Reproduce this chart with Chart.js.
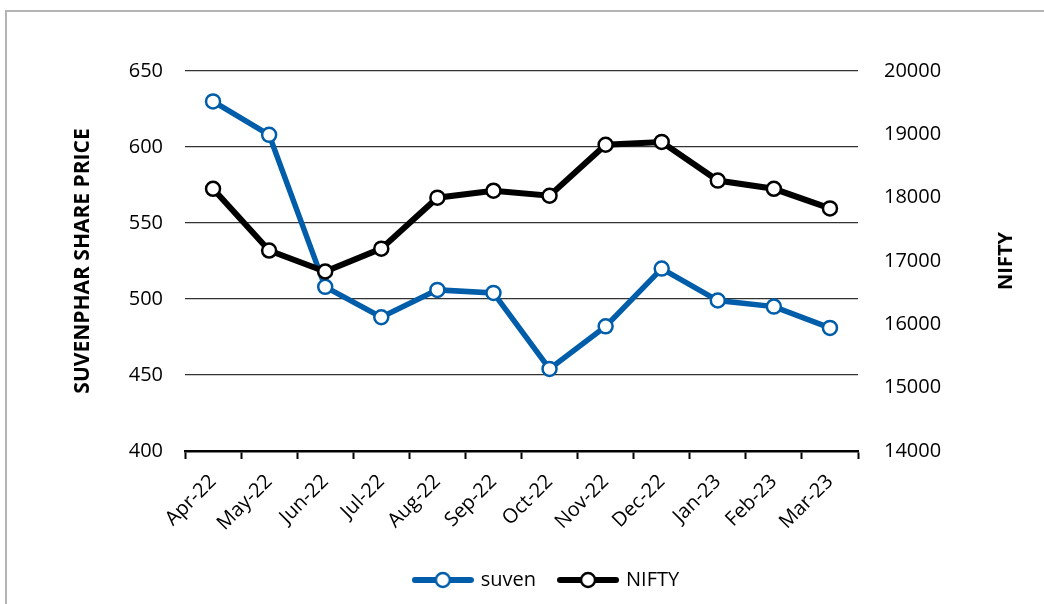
<!DOCTYPE html>
<html>
<head>
<meta charset="utf-8">
<script src="https://cdn.jsdelivr.net/npm/chart.js@4.4.1/dist/chart.umd.min.js"></script>
<style>
  html, body { margin: 0; padding: 0; background: #fff; }
  #wrap { position: relative; width: 1044px; height: 604px; }
  #frame { position: absolute; left: 5px; top: 10px; right: -10px; bottom: -10px;
           border-top: 2px solid #b4b4b4; border-left: 2px solid #b4b4b4; }
  canvas { position: absolute; left: 0; top: 0; }
</style>
</head>
<body>
<div id="wrap">
  <div id="frame"></div>
  <canvas id="chart" width="1044" height="604"></canvas>
</div>
<script>
let months = ["Apr-22", "May-22", "Jun-22", "Jul-22", "Aug-22", "Sep-22",
              "Oct-22", "Nov-22", "Dec-22", "Jan-23", "Feb-23", "Mar-23"];
let suven = [630, 608, 508, 488, 506, 504, 454, 482, 520, 499, 495, 481];
let nifty = [18140, 17165, 16835, 17195, 18000, 18110, 18030, 18835, 18880, 18270, 18140, 17830];

let blue = "#005DAA";
let fontFamily = "'Open Sans', 'Noto Sans', sans-serif";

// legend icon: short line with an open circle in the middle
function legendIcon(color) {
    let c = document.createElement("canvas");
    c.width = 62;
    c.height = 20;
    let ctx = c.getContext("2d");
    ctx.strokeStyle = color;
    ctx.lineWidth = 6;
    ctx.lineCap = "round";
    ctx.beginPath();
    ctx.moveTo(3, 10);
    ctx.lineTo(59, 10);
    ctx.stroke();
    ctx.beginPath();
    ctx.arc(31, 10, 7, 0, Math.PI * 2);
    ctx.fillStyle = "#fff";
    ctx.fill();
    ctx.lineWidth = 2.5;
    ctx.stroke();
    return c;
}

let icons = { suven: legendIcon(blue), NIFTY: legendIcon("#000") };

// the right title reads bottom-to-top, so draw it ourselves
let niftyTitle = {
    id: "niftyTitle",
    afterLayout(chart) {
        // legend sits a bit right of centre in the original
        chart.legend.left += 25;
        chart.legend.right += 25;
    },
    afterDraw(chart) {
        let ctx = chart.ctx;
        let area = chart.chartArea;
        ctx.save();
        ctx.translate(1006, (area.top + area.bottom) / 2);
        ctx.rotate(-Math.PI / 2);
        ctx.font = "bold 20px " + fontFamily;
        ctx.fillStyle = "#000";
        ctx.textAlign = "center";
        ctx.textBaseline = "middle";
        ctx.fillText("NIFTY", 0, 0);
        ctx.restore();
    }
};

new Chart(document.getElementById("chart"), {
    type: "line",
    data: {
        labels: months,
        datasets: [
            {
                label: "suven", data: suven, yAxisID: "y",
                borderColor: blue, borderWidth: 5.5,
                pointRadius: 7, pointHoverRadius: 7, pointBorderWidth: 2.5,
                pointBackgroundColor: "#fff", pointBorderColor: blue,
                tension: 0, order: 2
            },
            {
                label: "NIFTY", data: nifty, yAxisID: "y1",
                borderColor: "#000", borderWidth: 6,
                pointRadius: 7, pointHoverRadius: 7, pointBorderWidth: 2.5,
                pointBackgroundColor: "#fff", pointBorderColor: "#000",
                tension: 0, order: 1
            }
        ]
    },
    options: {
        responsive: false,
        animation: false,
        layout: { padding: { top: 71, left: 0, right: 0, bottom: 4 } },
        plugins: {
            tooltip: { enabled: false },
            legend: {
                position: "bottom",
                labels: {
                    usePointStyle: true,
                    pointStyleWidth: 56,
                    padding: 24,
                    color: "#000",
                    font: { family: fontFamily, size: 20 },
                    generateLabels(chart) {
                        return chart.data.datasets.map((ds, i) => ({
                            text: ds.label,
                            pointStyle: icons[ds.label],
                            fillStyle: ds.borderColor,
                            strokeStyle: ds.borderColor,
                            lineWidth: 0,
                            hidden: false,
                            datasetIndex: i
                        }));
                    }
                }
            }
        },
        scales: {
            x: {
                offset: true,
                grid: {
                    offset: true, drawOnChartArea: false, drawTicks: true,
                    tickLength: 8, tickColor: "#000", tickWidth: 2
                },
                border: { display: true, color: "#000", width: 2.5 },
                ticks: {
                    color: "#000", minRotation: 45, maxRotation: 45, padding: 11,
                    font: { family: fontFamily, size: 20 }
                },
                afterFit(scale) { scale.height = 95; }
            },
            y: {
                position: "left",
                min: 400, max: 650,
                ticks: {
                    stepSize: 50, color: "#000", padding: 22,
                    font: { family: fontFamily, size: 20 }
                },
                grid: { color: "#333", lineWidth: 1.2, drawTicks: false },
                border: { display: false },
                title: {
                    display: true, text: "SUVENPHAR SHARE PRICE", color: "#000",
                    font: { family: fontFamily, size: 21, weight: "bold" },
                    padding: { top: 70, bottom: 0 }
                },
                afterFit(scale) { scale.width = 185; }
            },
            y1: {
                position: "right",
                min: 14000, max: 20000,
                ticks: {
                    stepSize: 1000, color: "#000", padding: 26,
                    font: { family: fontFamily, size: 20 },
                    callback: (v) => String(v)
                },
                grid: { display: false, drawTicks: false },
                border: { display: false },
                afterFit(scale) { scale.width = 186; }
            }
        }
    },
    plugins: [niftyTitle]
});
</script>
</body>
</html>
